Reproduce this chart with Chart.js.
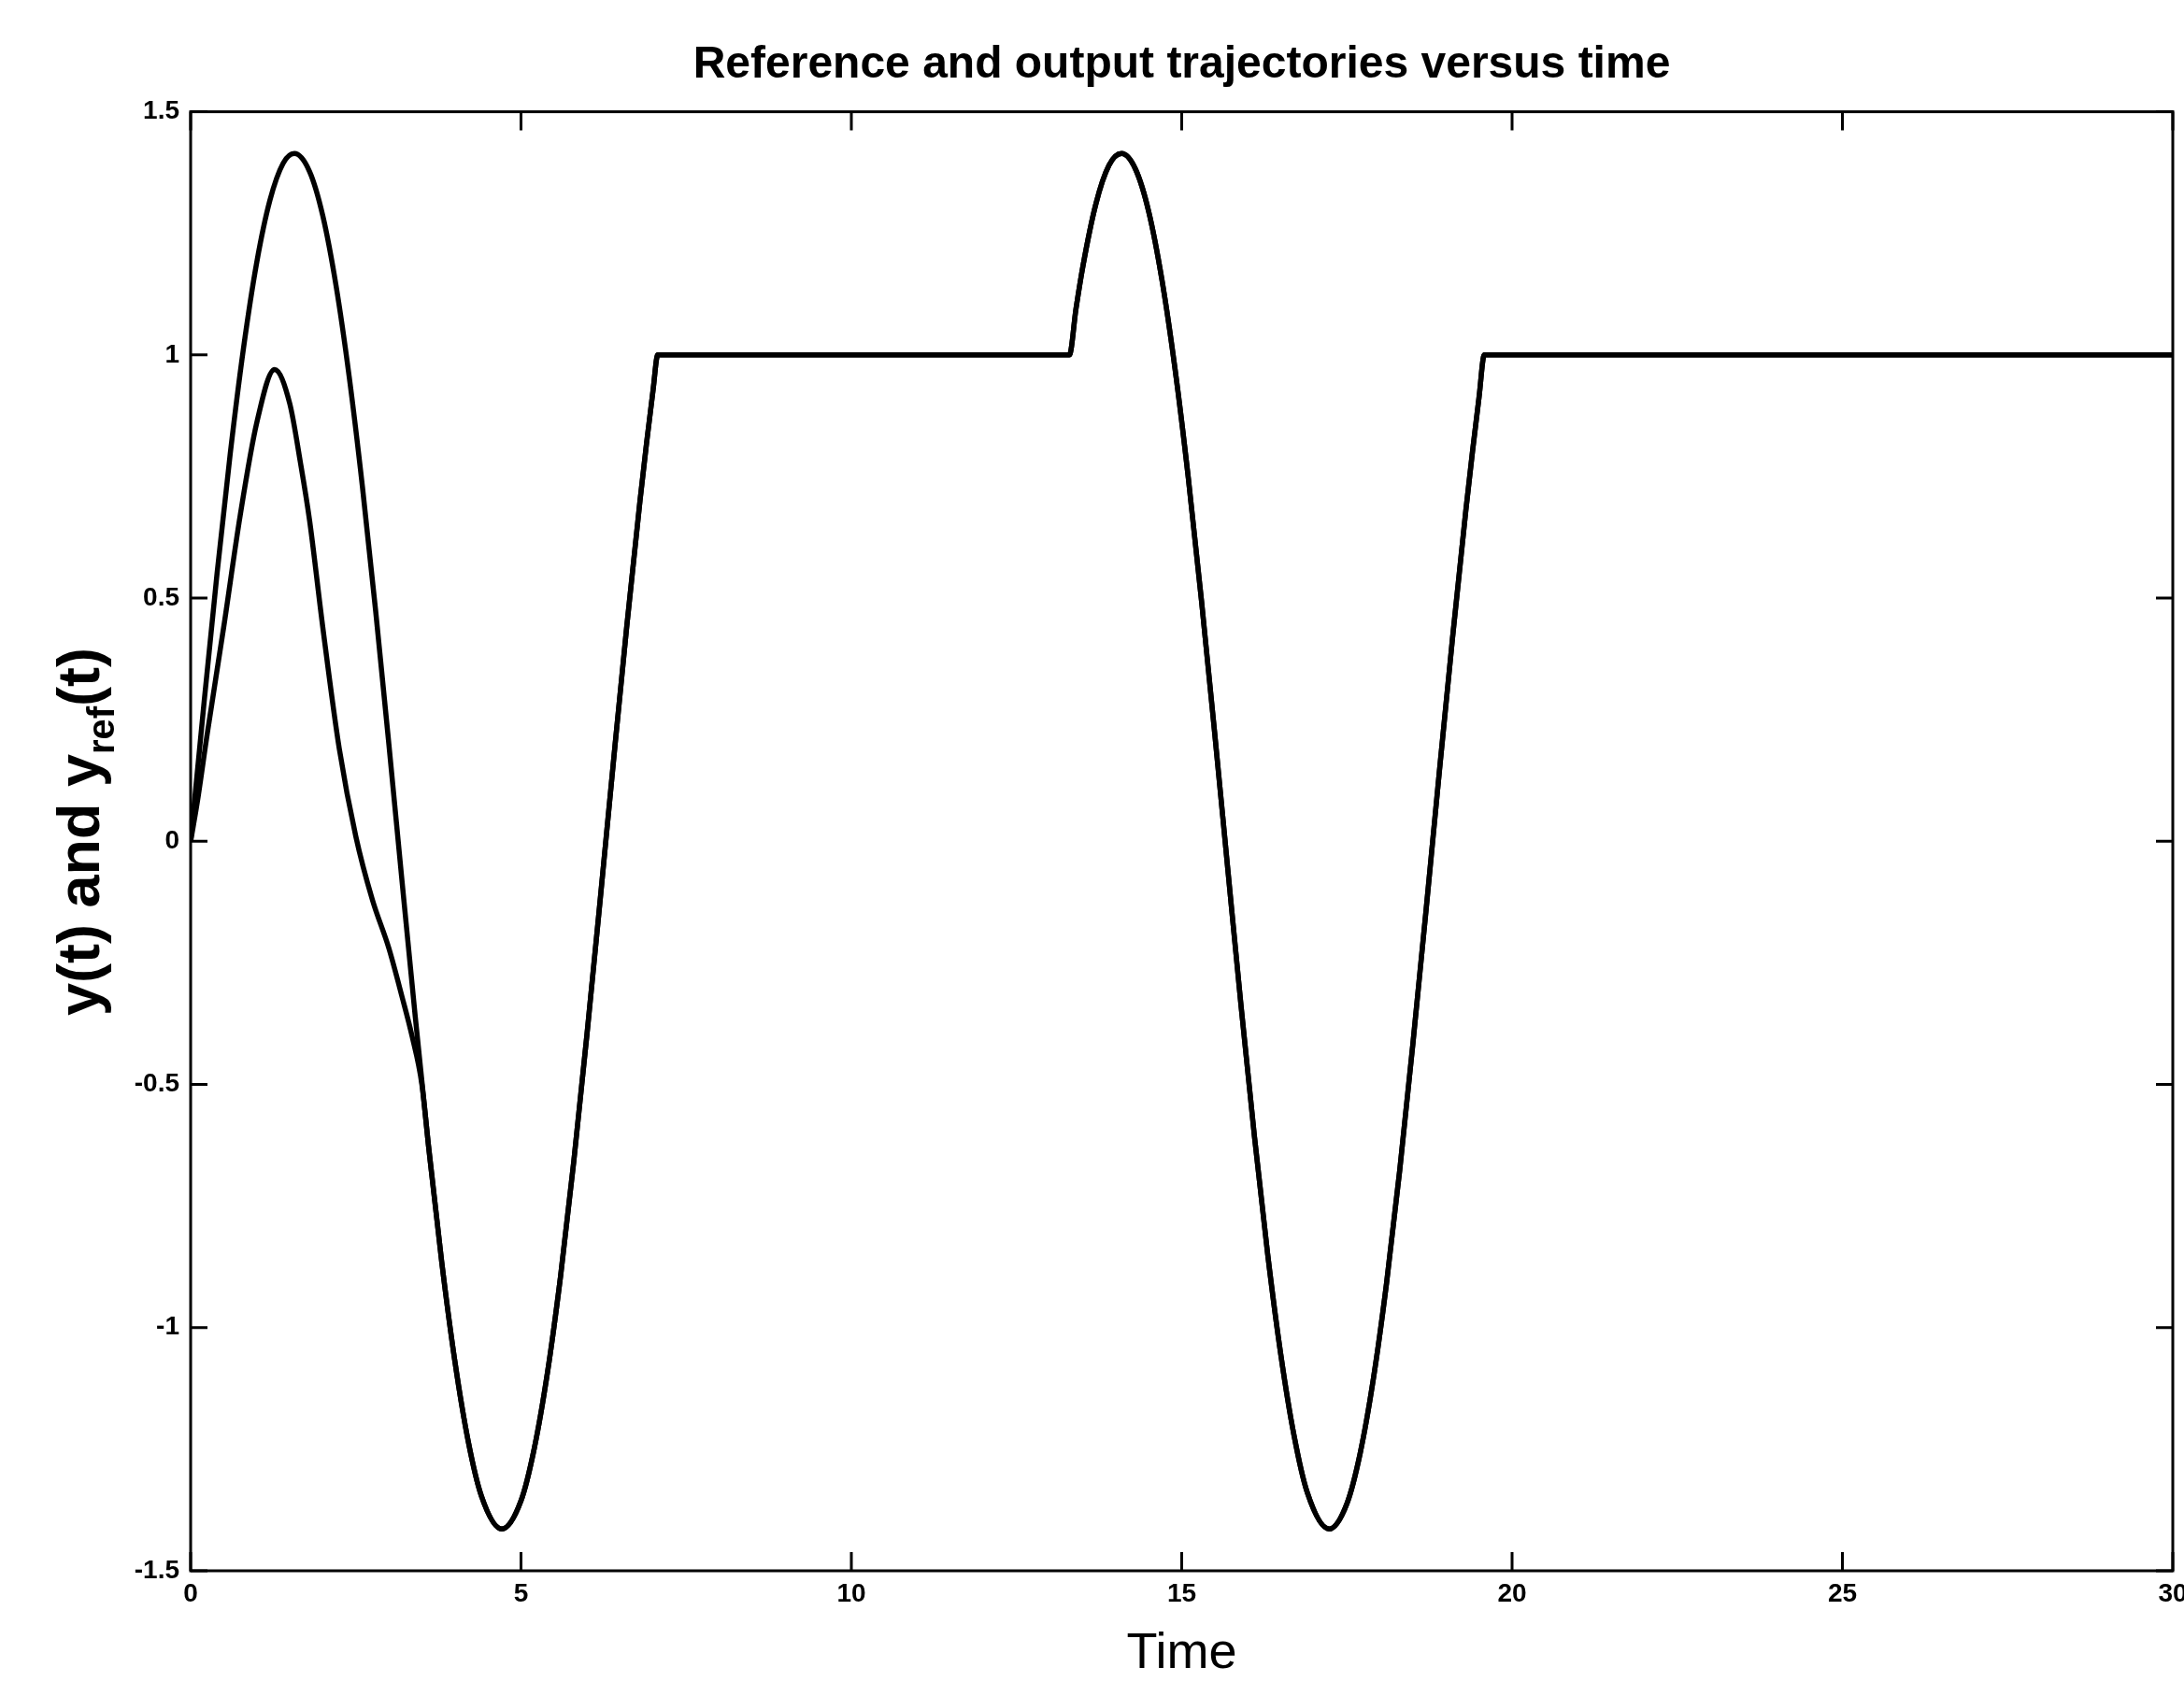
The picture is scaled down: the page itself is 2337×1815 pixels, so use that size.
<!DOCTYPE html>
<html>
<head>
<meta charset="utf-8">
<script src="https://cdn.jsdelivr.net/npm/chart.js@4.4.1/dist/chart.umd.min.js"></script>
<style>
  html, body { margin: 0; padding: 0; background: #fff; }
  canvas { display: block; }
</style>
</head>
<body>
<canvas id="c" width="2337" height="1815"></canvas>
<script>
// ---- data ----
const titleText = 'Reference and output trajectories versus time';
const xAxisLabel = 'Time';
const yAxisLabelMain = 'y(t) and y';
const yAxisLabelSub = 'ref';
const yAxisLabelTail = '(t)';

const xTickValues = [0, 5, 10, 15, 20, 25, 30];
const xTickLabels = ['0', '5', '10', '15', '20', '25', '30'];
const yTickValues = [-1.5, -1, -0.5, 0, 0.5, 1, 1.5];
const yTickLabels = ['-1.5', '-1', '-0.5', '0', '0.5', '1', '1.5'];

// reference trajectory y_ref(t)
const refTime = [0, 0.2, 0.4, 0.6, 0.8, 1.0, 1.2, 1.4, 1.57, 1.8, 2.0, 2.2, 2.4, 2.6, 2.8, 3.0, 3.2, 3.4, 3.6, 3.8, 4.0, 4.2, 4.4, 4.71, 5.0, 5.2, 5.4, 5.6, 5.8, 6.0, 6.2, 6.4, 6.6, 6.8, 6.9, 7.0, 7.07,
  13.3, 13.4, 13.5, 13.7, 13.9, 14.09, 14.3, 14.5, 14.7, 14.9, 15.1, 15.3, 15.5, 15.7, 15.9, 16.1, 16.3, 16.5, 16.7, 16.9, 17.23, 17.5, 17.7, 17.9, 18.1, 18.3, 18.5, 18.7, 18.9, 19.1, 19.3, 19.4, 19.5, 19.58, 30];
const refValues = [0, 0.281, 0.551, 0.798, 1.014, 1.190, 1.318, 1.394, 1.414, 1.377, 1.286, 1.143, 0.955, 0.729, 0.474, 0.200, -0.083, -0.361, -0.626, -0.865, -1.070, -1.233, -1.346, -1.414, -1.356, -1.249, -1.093, -0.893, -0.657, -0.395, -0.118, 0.165, 0.441, 0.699, 0.818, 0.929, 1.0,
  1.0, 1.095, 1.179, 1.310, 1.390, 1.414, 1.382, 1.295, 1.155, 0.970, 0.747, 0.494, 0.221, -0.061, -0.341, -0.606, -0.848, -1.056, -1.222, -1.339, -1.414, -1.362, -1.259, -1.106, -0.909, -0.676, -0.415, -0.139, 0.144, 0.420, 0.680, 0.800, 0.913, 1.0, 1.0];

// output trajectory y(t) before it joins the reference (afterwards it coincides with y_ref)
const outTime = [0, 0.1, 0.25, 0.5, 0.75, 1.0, 1.27, 1.5, 1.66, 1.8, 2.0, 2.25, 2.5, 2.75, 3.0, 3.2, 3.35, 3.5];
const outValues = [0, 0.08, 0.22, 0.44, 0.67, 0.86, 0.97, 0.90, 0.78, 0.66, 0.44, 0.19, 0.01, -0.12, -0.22, -0.32, -0.40, -0.50];

// ---- build datasets from the arrays ----
const refPoints = refTime.map((t, i) => ({ x: t, y: refValues[i] }));
const outJoin = outTime[outTime.length - 1];
const outPoints = outTime.map((t, i) => ({ x: t, y: outValues[i] }))
  .concat(refPoints.filter(p => p.x > outJoin));

const FONT = "'Liberation Sans', Arial, Helvetica, sans-serif";

const framePlugin = {
  id: 'framePlugin',
  beforeDraw(chart) {
    const ctx = chart.ctx;
    ctx.save();
    ctx.fillStyle = '#fff';
    ctx.fillRect(0, 0, chart.width, chart.height);
    ctx.restore();
  },
  afterDraw(chart) {
    const { ctx, chartArea: a, scales } = chart;
    ctx.save();
    ctx.strokeStyle = '#000';
    ctx.lineWidth = 3;
    ctx.strokeRect(a.left, a.top, a.right - a.left, a.bottom - a.top);
    ctx.beginPath();
    const xLen = 20, yLen = 18;
    xTickValues.forEach(v => {
      const px = scales.x.getPixelForValue(v);
      ctx.moveTo(px, a.bottom); ctx.lineTo(px, a.bottom - xLen);
      ctx.moveTo(px, a.top); ctx.lineTo(px, a.top + xLen);
    });
    yTickValues.forEach(v => {
      const py = scales.y.getPixelForValue(v);
      ctx.moveTo(a.left, py); ctx.lineTo(a.left + yLen, py);
      ctx.moveTo(a.right, py); ctx.lineTo(a.right - yLen, py);
    });
    ctx.stroke();

    // y axis label with subscript
    const mainFont = 'bold 63px ' + FONT;
    const subFont = 'bold 40px ' + FONT;
    ctx.fillStyle = '#000';
    ctx.textBaseline = 'alphabetic';
    ctx.textAlign = 'left';
    ctx.font = mainFont;
    const w1 = ctx.measureText(yAxisLabelMain).width;
    const w3 = ctx.measureText(yAxisLabelTail).width;
    ctx.font = subFont;
    const w2 = ctx.measureText(yAxisLabelSub).width;
    const total = w1 + w2 + w3;
    ctx.translate(106, 890);
    ctx.rotate(-Math.PI / 2);
    const x0 = -total / 2;
    ctx.font = mainFont;
    ctx.fillText(yAxisLabelMain, x0, 0);
    ctx.font = subFont;
    ctx.fillText(yAxisLabelSub, x0 + w1, 16);
    ctx.font = mainFont;
    ctx.fillText(yAxisLabelTail, x0 + w1 + w2, 0);
    ctx.restore();
  }
};

new Chart(document.getElementById('c'), {
  type: 'line',
  data: {
    datasets: [
      {
        label: 'y_ref(t)',
        data: refPoints,
        borderColor: '#000',
        borderWidth: 5.5,
        pointRadius: 0,
        fill: false,
        cubicInterpolationMode: 'monotone'
      },
      {
        label: 'y(t)',
        data: outPoints,
        borderColor: '#000',
        borderWidth: 5.5,
        pointRadius: 0,
        fill: false,
        cubicInterpolationMode: 'monotone'
      }
    ]
  },
  options: {
    responsive: false,
    animation: false,
    devicePixelRatio: 1,
    layout: { padding: { left: 0, right: 12, top: 0, bottom: 0 } },
    plugins: {
      legend: { display: false },
      tooltip: { enabled: false },
      title: {
        display: true,
        fullSize: false,
        text: titleText,
        color: '#000',
        font: { family: FONT, size: 48, weight: 'bold' },
        padding: { top: 41, bottom: 21 }
      }
    },
    scales: {
      x: {
        type: 'linear',
        min: 0,
        max: 30,
        border: { display: false },
        grid: { display: false, drawTicks: false },
        ticks: {
          stepSize: 5,
          autoSkip: false,
          maxRotation: 0,
          color: '#000',
          padding: 8,
          font: { family: FONT, size: 28, weight: 'bold' },
          callback: (v) => { const i = xTickValues.indexOf(v); return i >= 0 ? xTickLabels[i] : ''; }
        },
        title: {
          display: true,
          text: xAxisLabel,
          color: '#000',
          font: { family: FONT, size: 54 },
          padding: { top: 0, bottom: 12 }
        },
        afterFit(s) { s.height = 134; s.paddingLeft = 0; s.paddingRight = 0; }
      },
      y: {
        type: 'linear',
        min: -1.5,
        max: 1.5,
        border: { display: false },
        grid: { display: false, drawTicks: false },
        ticks: {
          stepSize: 0.5,
          color: '#000',
          padding: 12,
          font: { family: FONT, size: 28, weight: 'bold' },
          callback: (v) => { const i = yTickValues.indexOf(v); return i >= 0 ? yTickLabels[i] : ''; }
        },
        afterFit(s) { s.width = 204; }
      }
    }
  },
  plugins: [framePlugin]
});
</script>
</body>
</html>
